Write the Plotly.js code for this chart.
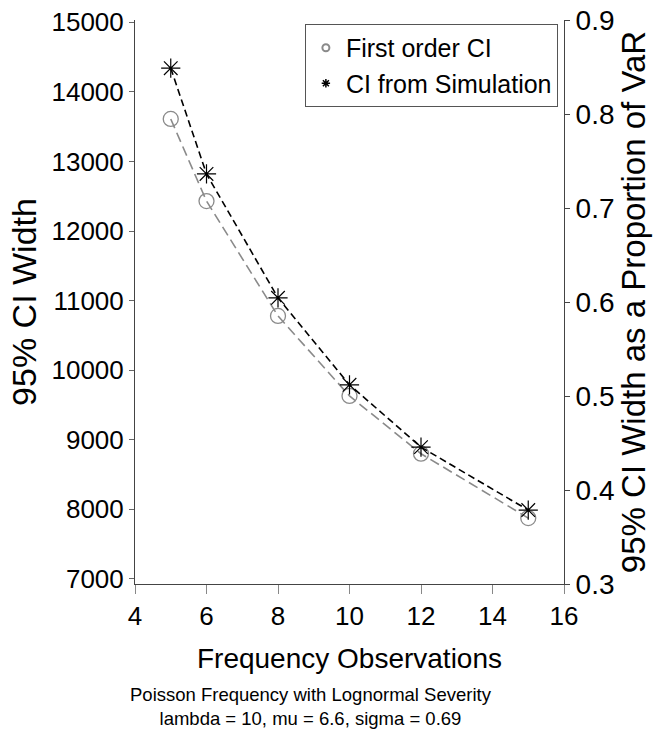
<!DOCTYPE html>
<html>
<head>
<meta charset="utf-8">
<script src="https://cdn.plot.ly/plotly-3.0.1.min.js"></script>
<style>html,body{margin:0;padding:0;background:#fff;}#chart{width:656px;height:733px;}</style>
</head>
<body>
<div id="chart"></div>
<script>
// Data
const frequencyObs = [5, 6, 8, 10, 12, 15];
const firstOrderCI = [13610, 12430, 10780, 9630, 8800, 7875];
const simulationCI = [14340, 12820, 11040, 9790, 8895, 7990];
const leftTicks = [7000, 8000, 9000, 10000, 11000, 12000, 13000, 14000, 15000];
const rightTicks = [0.3, 0.4, 0.5, 0.6, 0.7, 0.8, 0.9];
const xTicks = [4, 6, 8, 10, 12, 14, 16];
const seriesNames = ['First order CI', 'CI from Simulation'];

const FONT = 'Liberation Sans, Arial, sans-serif';
const GRAY = '#8a8a8a';

const traces = [
  {
    x: frequencyObs, y: firstOrderCI, type: 'scatter', mode: 'lines+markers',
    name: seriesNames[0], showlegend: false,
    line: {color: GRAY, width: 1.6, dash: '10px,5px'},
    marker: {symbol: 'circle-open', size: 15, color: GRAY, line: {width: 1.3, color: GRAY}}
  },
  {
    x: frequencyObs, y: simulationCI, type: 'scatter', mode: 'lines+markers',
    name: seriesNames[1], showlegend: false,
    line: {color: '#000', width: 1.6, dash: '7px,4px'},
    marker: {symbol: 'asterisk-open', size: 16, color: '#000', line: {width: 1.2, color: '#000'}}
  },
  // legend-only entries (small icons as in the reference)
  {
    x: [null], y: [null], type: 'scatter', mode: 'markers', name: seriesNames[0],
    marker: {symbol: 'circle-open', size: 7, color: GRAY, line: {width: 2, color: '#aaa'}}
  },
  {
    x: [null], y: [null], type: 'scatter', mode: 'markers', name: seriesNames[1],
    marker: {symbol: 'asterisk-open', size: 7, color: '#000', line: {width: 1.5, color: '#000'}}
  },
  // empty trace that activates the right-hand axis
  {
    x: [null], y: [null], type: 'scatter', mode: 'markers', yaxis: 'y2',
    showlegend: false, hoverinfo: 'skip'
  }
];

const layout = {
  width: 656, height: 733,
  margin: {l: 135, r: 92, t: 20, b: 149},
  paper_bgcolor: '#fff', plot_bgcolor: '#fff',
  font: {family: FONT, color: '#000', size: 24},
  showlegend: true,
  legend: {
    x: 0.396, y: 0.993, xanchor: 'left', yanchor: 'top',
    bgcolor: '#fff', bordercolor: '#555', borderwidth: 1,
    font: {family: FONT, size: 25, color: '#000'},
    itemwidth: 30, tracegroupgap: 0
  },
  xaxis: {
    range: [4, 16], tickvals: xTicks, ticktext: xTicks.map(String),
    showgrid: false, zeroline: false,
    showline: true, linecolor: '#444', linewidth: 1,
    ticks: 'outside', ticklen: 9, tickcolor: '#888', tickwidth: 1,
    tickfont: {family: FONT, size: 26},
    title: {text: 'Frequency Observations', font: {family: FONT, size: 28}, standoff: 18}
  },
  yaxis: {
    range: [6928, 15032], tickvals: leftTicks, ticktext: leftTicks.map(String),
    showgrid: false, zeroline: false,
    showline: true, linecolor: '#444', linewidth: 1,
    ticks: 'outside', ticklen: 5, tickcolor: '#666', tickwidth: 1,
    tickfont: {family: FONT, size: 26},
    title: {text: '95% CI Width', font: {family: FONT, size: 34}, standoff: 4}
  },
  yaxis2: {
    overlaying: 'y', side: 'right', anchor: 'x',
    range: [0.3, 0.9], tickvals: rightTicks, ticktext: rightTicks.map(v => v.toFixed(1)),
    showgrid: false, zeroline: false,
    showline: true, linecolor: '#444', linewidth: 1,
    ticks: 'outside', ticklen: 5, tickcolor: '#444', tickwidth: 1,
    tickfont: {family: FONT, size: 28},
    title: {text: '95% CI Width as a Proportion of VaR', font: {family: FONT, size: 33}, standoff: 4}
  },
  annotations: [{
    xref: 'paper', yref: 'paper', x: (311 - 135) / 429, y: -0.174,
    xanchor: 'center', yanchor: 'top', showarrow: false, align: 'center',
    text: 'Poisson Frequency with Lognormal Severity<br>lambda = 10, mu = 6.6, sigma = 0.69',
    font: {family: FONT, size: 18.5, color: '#000'}
  }]
};

Plotly.newPlot('chart', traces, layout, {displayModeBar: false, staticPlot: true});
</script>
</body>
</html>
